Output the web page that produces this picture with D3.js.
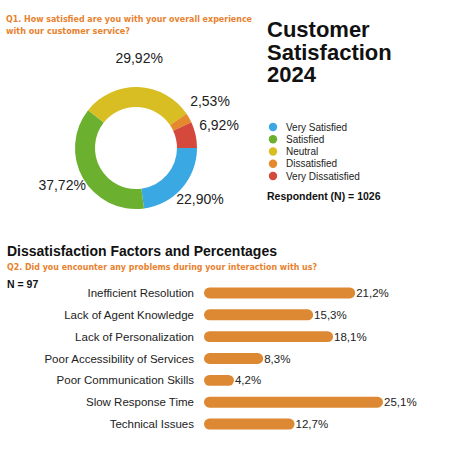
<!DOCTYPE html>
<html><head><meta charset="utf-8">
<script src="https://cdn.jsdelivr.net/npm/d3@7/dist/d3.min.js"></script>
<style>
html,body{margin:0;padding:0;background:#fff;}
svg{display:block;font-family:"Liberation Sans",Arial,Helvetica,sans-serif;}
</style></head>
<body>
<svg id="c" width="451" height="449"></svg>
<script>
const satCategories = ["Very Satisfied","Satisfied","Neutral","Dissatisfied","Very Dissatisfied"];
const satValues = [22.90, 37.72, 29.92, 2.53, 6.92];
const satLabels = ["22,90%","37,72%","29,92%","2,53%","6,92%"];
const satColors = ["#3aa8e2","#6bb02f","#d8be22","#e58a2c","#d5493c"];
const factorCategories = ["Inefficient Resolution","Lack of Agent Knowledge","Lack of Personalization","Poor Accessibility of Services","Poor Communication Skills","Slow Response Time","Technical Issues"];
const factorValues = [21.2, 15.3, 18.1, 8.3, 4.2, 25.1, 12.7];
const factorLabels = ["21,2%","15,3%","18,1%","8,3%","4,2%","25,1%","12,7%"];
const respondents = 1026;
const factorN = 97;

const svg = d3.select("#c");
const orange = "#e8822e";

// Q1 header
const q1 = svg.append("text").attr("x",6).attr("y",22)
  .attr("fill",orange).attr("font-weight","bold").attr("font-size",9.5)
  .attr("font-family","'DejaVu Sans Condensed','DejaVu Sans',sans-serif");
q1.append("tspan").attr("x",6).attr("y",22).attr("textLength",246).attr("lengthAdjust","spacingAndGlyphs")
  .text("Q1. How satisfied are you with your overall experience");
q1.append("tspan").attr("x",6).attr("y",34).attr("textLength",124).attr("lengthAdjust","spacingAndGlyphs")
  .text("with our customer service?");

// Title
const title = svg.append("text").attr("font-weight","bold").attr("font-size",22).attr("fill","#111");
["Customer","Satisfaction","2024"].forEach((t,i)=>{
  title.append("tspan").attr("x",267).attr("y",37+i*22.5).text(t);
});

// Donut
const cx = 136, cy = 148;
const pie = d3.pie().sort(null).value(d=>d).startAngle(Math.PI/2).endAngle(Math.PI/2+2*Math.PI);
const arcs = pie(satValues);
const arc = d3.arc().innerRadius(41).outerRadius(61);
const labelArc = d3.arc().innerRadius(85).outerRadius(85);
const g = svg.append("g").attr("transform",`translate(${cx},${cy})`);
g.selectAll("path").data(arcs).join("path").attr("d",arc).attr("fill",(d,i)=>satColors[i]);
g.selectAll("text").data(arcs).join("text")
  .attr("transform",d=>{const c=labelArc.centroid(d);return `translate(${c[0]},${c[1]-5})`;})
  .attr("text-anchor","middle").attr("dy","0.35em")
  .attr("font-size",14).attr("fill","#222").text((d,i)=>satLabels[i]);

// Legend
const lg = svg.append("g");
const ly = d3.scalePoint().domain(satCategories).range([127,176]);
lg.selectAll("circle").data(satCategories).join("circle")
  .attr("cx",273).attr("cy",d=>ly(d)).attr("r",4.2).attr("fill",(d,i)=>satColors[i]);
lg.selectAll("text").data(satCategories).join("text")
  .attr("x",286).attr("y",d=>ly(d)).attr("dy","0.35em").attr("font-size",10).attr("fill","#222").text(d=>d);
svg.append("text").attr("x",267).attr("y",200).attr("font-weight","bold").attr("font-size",10.5)
  .attr("fill","#111").text(`Respondent (N) = ${respondents}`);

// Section 2
svg.append("text").attr("x",7).attr("y",256).attr("font-weight","bold").attr("font-size",14).attr("fill","#111")
  .text("Dissatisfaction Factors and Percentages");
svg.append("text").attr("x",7).attr("y",270).attr("fill",orange).attr("font-weight","bold").attr("font-size",9.5)
  .attr("font-family","'DejaVu Sans Condensed','DejaVu Sans',sans-serif")
  .attr("textLength",310).attr("lengthAdjust","spacingAndGlyphs")
  .text("Q2. Did you encounter any problems during your interaction with us?");
svg.append("text").attr("x",7).attr("y",288).attr("font-weight","bold").attr("font-size",10.5).attr("fill","#111")
  .text(`N = ${factorN}`);

const x = d3.scaleLinear().domain([0,25.1]).range([204,383]);
const y = d3.scaleBand().domain(factorCategories).range([282,435]).paddingInner(0.5).paddingOuter(0.25);
const bg = svg.append("g");
bg.selectAll("rect").data(factorValues).join("rect")
  .attr("x",x(0)).attr("y",(d,i)=>y(factorCategories[i]))
  .attr("width",d=>x(d)-x(0)).attr("height",y.bandwidth())
  .attr("rx",y.bandwidth()/2).attr("fill","#dd8832");
bg.selectAll("text.cat").data(factorCategories).join("text").attr("class","cat")
  .attr("x",194).attr("y",d=>y(d)+y.bandwidth()/2).attr("dy","0.35em").attr("text-anchor","end")
  .attr("font-size",11.5).attr("fill","#222").text(d=>d);
bg.selectAll("text.val").data(factorValues).join("text").attr("class","val")
  .attr("x",d=>x(d)+1).attr("y",(d,i)=>y(factorCategories[i])+y.bandwidth()/2).attr("dy","0.35em")
  .attr("font-size",11.5).attr("fill","#222").text((d,i)=>factorLabels[i]);
</script>
</body></html>
